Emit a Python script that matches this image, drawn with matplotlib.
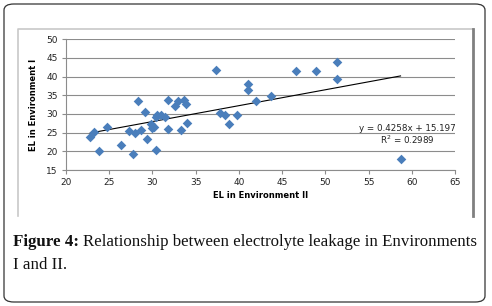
import matplotlib.pyplot as plt
from matplotlib.patches import FancyBboxPatch
from matplotlib.lines import Line2D
import numpy as np

# EL values
env2 = [22.8, 23.2, 23.8, 24.7, 26.4, 27.3, 27.7, 28.0, 28.3, 28.7,
        29.1, 29.4, 29.8, 30.0, 30.2, 30.4, 30.4, 30.5, 31.0, 31.5,
        31.8, 31.8, 32.6, 32.9, 33.3, 33.7, 33.9, 34.0, 37.4, 37.8,
        38.4, 38.9, 39.8, 41.0, 41.0, 42.0, 43.7, 46.65, 48.9, 51.35,
        51.3, 58.7]
env1 = [23.9, 25.1, 20.1, 26.4, 21.8, 25.5, 19.3, 25.0, 33.4, 25.6,
        30.4, 23.2, 27.2, 26.2, 26.6, 29.3, 20.3, 29.6, 29.6, 29.3,
        33.75, 26.0, 32.2, 33.6, 25.7, 33.75, 32.6, 27.7, 41.8, 30.2,
        29.6, 27.4, 29.6, 38.1, 36.4, 33.6, 34.9, 41.5, 41.5, 44.0,
        39.5, 17.9]
slope = 0.4258
intercept = 15.197
r2 = 0.2989
xticks = [20, 25, 30, 35, 40, 45, 50, 55, 60, 65]
yticks = [15, 20, 25, 30, 35, 40, 45, 50]

W, H = 492, 306
fig = plt.figure(figsize=(W / 100, H / 100), dpi=100)


def fx(px):
    return px / W


def fy(py):
    return 1 - py / H


# outer rounded frame
frame = FancyBboxPatch((fx(4), fy(302)), fx(481), (298) / H,
                       boxstyle="round,pad=0,rounding_size=0.02",
                       transform=fig.transFigure, fill=False,
                       edgecolor='#333333', linewidth=0.9)
fig.patches.append(frame)

# inner chart area border (left/top light, right darker)
fig.lines.append(Line2D([fx(18), fx(18), fx(473)], [fy(216), fy(28.5), fy(28.5)],
                        transform=fig.transFigure, color='#c8c8c8', lw=1.2))
fig.lines.append(Line2D([fx(473), fx(473)], [fy(28.5), fy(216)],
                        transform=fig.transFigure, color='#808080', lw=2))

ax = fig.add_axes([fx(66), fy(170), fx(389), 130.7 / H])
ax.scatter(env2, env1, marker='D', s=24, color='#4a7ebb', zorder=3,
           linewidths=0)

xs = np.array([min(env2), max(env2)])
ax.plot(xs, slope * xs + intercept, color='black', lw=0.8, zorder=2)

ax.set_xlim(20, 65)
ax.set_ylim(15, 50)
ax.set_xticks(xticks)
ax.set_yticks(yticks)
ax.grid(axis='y', color='#8c8c8c', lw=0.8)
ax.set_axisbelow(True)
for s in ['top', 'right']:
    ax.spines[s].set_visible(False)
for s in ['left', 'bottom']:
    ax.spines[s].set_color('#8c8c8c')
    ax.spines[s].set_linewidth(0.8)
ax.tick_params(length=3, width=0.8, color='#8c8c8c', labelsize=6.5,
               pad=3, labelcolor='#222222')
ax.set_xlabel('EL in Environment II', fontsize=6, fontweight='bold', labelpad=3)
ax.set_ylabel('EL in Environment I', fontsize=6, fontweight='bold', labelpad=6)

ax.text(59.5, 26.2, f'y = {slope}x + {intercept}', fontsize=6.3,
        ha='center', va='center', color='#222222')
ax.text(59.5, 23.0, f'R$^2$ = {r2}', fontsize=6.3,
        ha='center', va='center', color='#222222')

# caption: bold label then regular text
cap_fs = 12.2
t1 = fig.text(fx(13), fy(246), 'Figure 4:', fontsize=cap_fs, fontweight='bold',
              family='Liberation Serif', va='baseline', color='#111111')
fig.canvas.draw()
bb = t1.get_window_extent()
fig.text(bb.x1 / W + 0.009, fy(246),
         'Relationship between electrolyte leakage in Environments',
         fontsize=cap_fs, family='Liberation Serif', va='baseline', color='#111111')
fig.text(fx(13), fy(269), 'I and II.', fontsize=cap_fs,
         family='Liberation Serif', va='baseline', color='#111111')

fig.savefig('out.png', dpi=100)
